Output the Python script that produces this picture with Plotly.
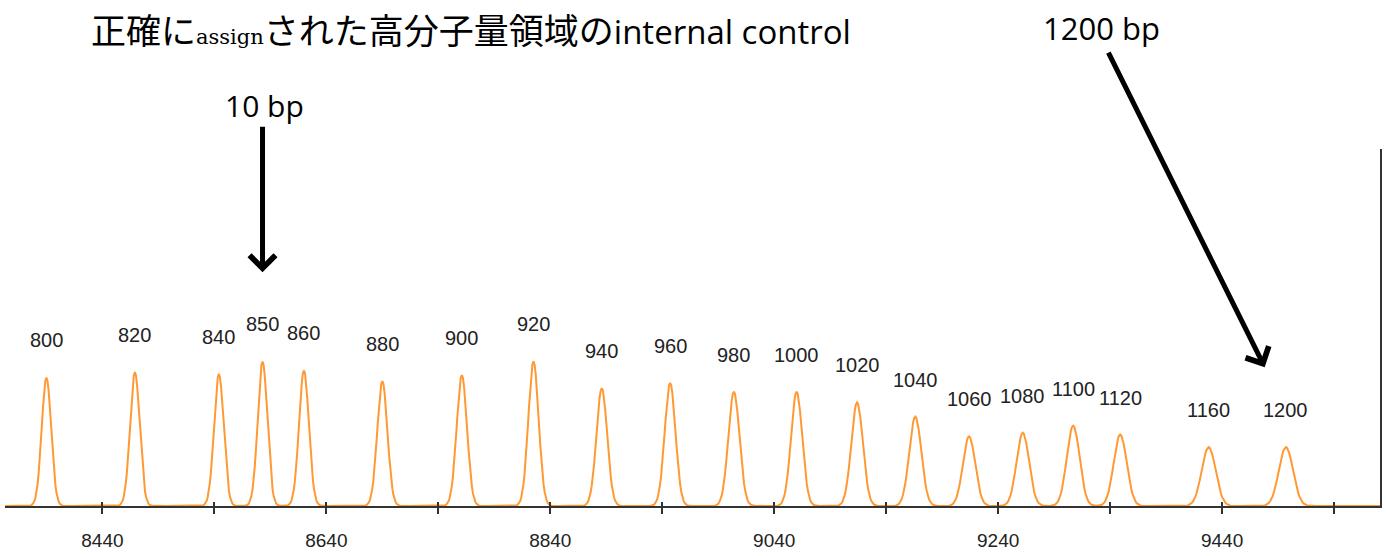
import numpy as np
import plotly.graph_objects as go

# ---- data ----
size_labels = ["800", "820", "840", "850", "860", "880", "900", "920", "940", "960",
               "980", "1000", "1020", "1040", "1060", "1080", "1100", "1120", "1160", "1200"]
peak_pos = [8390, 8469, 8544, 8583, 8620, 8690, 8761, 8825, 8886, 8947,
            9004, 9060, 9114, 9166, 9214, 9262, 9307, 9349, 9428, 9497]
peak_height = [360, 375, 370, 405, 380, 350, 367, 405, 330, 345,
               320, 320, 290, 250, 195, 205, 225, 200, 165, 165]
peak_width = [4.2, 4.3, 4.3, 4.3, 4.4, 4.5, 4.6, 4.6, 4.8, 4.8,
              5.0, 5.0, 5.2, 5.4, 5.5, 5.6, 5.7, 5.8, 6.2, 6.3]
tick_vals = [8440, 8540, 8640, 8740, 8840, 8940, 9040, 9140, 9240, 9340, 9440, 9540]
tick_text = ["8440", "", "8640", "", "8840", "", "9040", "", "9240", "", "9440", ""]

x_min, x_max = 8353, 9581

# electropherogram trace sampled per scan
scans = np.arange(x_min, x_max + 1, 1.0)
signal = np.zeros_like(scans)
for p, h, w in zip(peak_pos, peak_height, peak_width):
    signal += h * np.exp(-0.5 * ((scans - p) / w) ** 2)

fig = go.Figure()
fig.add_trace(go.Scatter(x=scans, y=signal, mode="lines",
                         line=dict(color="#FF9933", width=2), hoverinfo="skip",
                         showlegend=False))
# helper trace so the overlay axis (inner tick marks) is drawn
fig.add_trace(go.Scatter(x=[x_min, x_max], y=[0, 0], xaxis="x2", mode="lines",
                         line=dict(width=0), hoverinfo="skip", showlegend=False))

annotations = []
for lab, p, h in zip(size_labels, peak_pos, peak_height):
    annotations.append(dict(x=p, y=h, xref="x", yref="y", text=lab, showarrow=False,
                            yshift=37, xanchor="center", yanchor="middle",
                            font=dict(family="Liberation Sans", size=20, color="#222")))

title_html = ("正確に"
              "<span style=\"font-family:DejaVu Serif;font-size:21px\">assign</span>"
              "された高分子量領域の"
              "<span style=\"font-family:Open Sans;font-size:33px\">internal control</span>")
annotations.append(dict(x=0.339, y=1.338, xref="paper", yref="paper", text=title_html,
                        showarrow=False, xanchor="center", yanchor="middle",
                        font=dict(family="Noto Sans CJK JP", size=35, color="#000")))
annotations.append(dict(x=0.1884, y=1.122, xref="paper", yref="paper", text="10 bp",
                        showarrow=False, xanchor="center", yanchor="middle",
                        font=dict(family="Open Sans", size=30, color="#000")))
annotations.append(dict(x=0.7978, y=1.338, xref="paper", yref="paper", text="1200 bp",
                        showarrow=False, xanchor="center", yanchor="middle",
                        font=dict(family="Open Sans", size=31, color="#000")))
# arrows
annotations.append(dict(x=8583, y=655, xref="x", yref="y", text="", showarrow=True,
                        ax=0, ay=-147, axref="pixel", ayref="pixel",
                        arrowhead=4, arrowsize=1, arrowwidth=5, arrowcolor="#000"))
annotations.append(dict(x=9478, y=389, xref="x", yref="y", text="", showarrow=True,
                        ax=-157, ay=-316, axref="pixel", ayref="pixel",
                        arrowhead=4, arrowsize=1, arrowwidth=5, arrowcolor="#000"))

fig.update_layout(
    width=1386, height=556,
    margin=dict(l=5, r=6, t=149, b=42),
    paper_bgcolor="white", plot_bgcolor="white",
    annotations=annotations,
    xaxis=dict(range=[x_min, x_max], showgrid=False, zeroline=False,
               showline=True, linecolor="#333", linewidth=2,
               ticks="outside", ticklen=6, tickwidth=1.5, tickcolor="#333",
               tickvals=tick_vals, ticktext=tick_text, ticklabelstandoff=10,
               tickfont=dict(family="Liberation Sans Narrow, Liberation Sans", size=19, color="#222")),
    xaxis2=dict(range=[x_min, x_max], overlaying="x", side="bottom", showgrid=False,
                zeroline=False, showline=False, ticks="inside", ticklen=4, tickwidth=1.5,
                tickcolor="#333", tickvals=tick_vals, showticklabels=False),
    yaxis=dict(range=[0, 1000], showgrid=False, zeroline=False,
               showline=True, side="right", linecolor="#333", linewidth=2,
               showticklabels=False, ticks=""),
)

fig.write_html("out.html")
